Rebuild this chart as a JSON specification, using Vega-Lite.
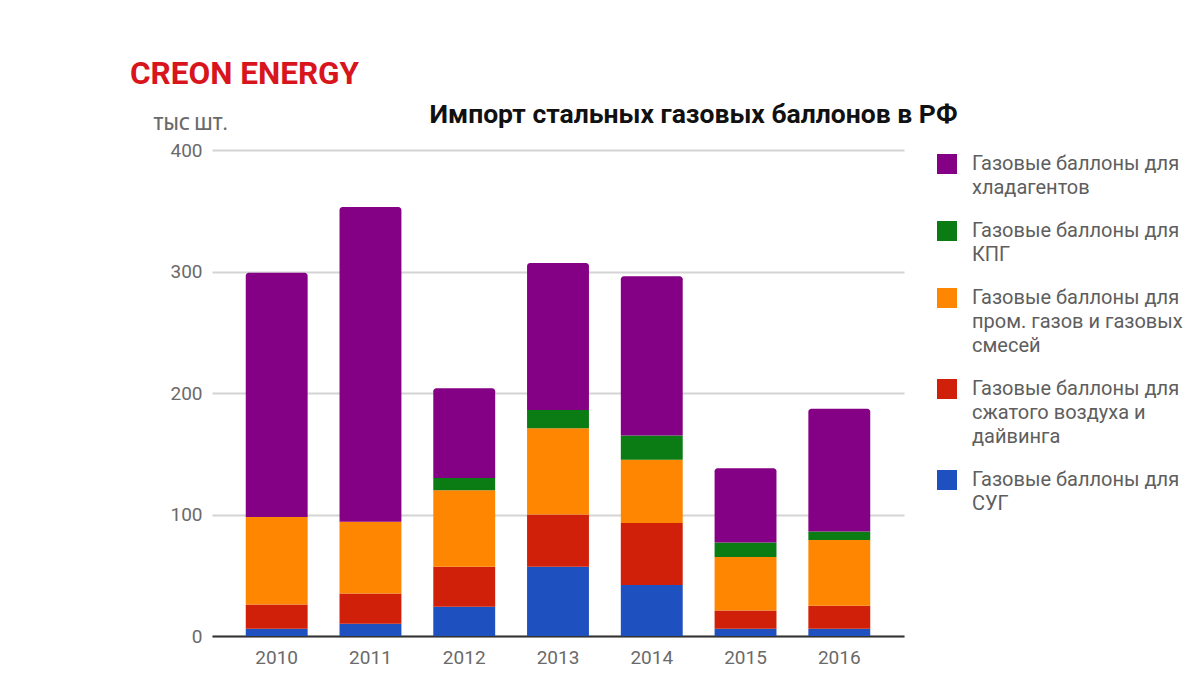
{
  "$schema": "https://vega.github.io/schema/vega-lite/v6.json",
  "width": 692,
  "height": 486,
  "autosize": {"type": "none"},
  "padding": {"left": 212, "top": 150, "right": 296, "bottom": 48},
  "background": "white",
  "title": {
    "text": "CREON ENERGY",
    "anchor": "start",
    "frame": "group",
    "dx": -82,
    "offset": 11,
    "font": "Roboto",
    "fontSize": 31.5,
    "fontWeight": "bold",
    "color": "#d8141c"
  },
  "config": {
    "view": {"stroke": null},
    "font": "Roboto",
    "style": {"guide-label": {"lineHeight": 24}}
  },
  "data": {
    "values": [
      {"year": "2010", "cat": "Газовые баллоны для|СУГ", "ord": 1, "value": 6},
      {"year": "2010", "cat": "Газовые баллоны для|сжатого воздуха и|дайвинга", "ord": 2, "value": 20},
      {"year": "2010", "cat": "Газовые баллоны для|пром. газов и газовых|смесей", "ord": 3, "value": 72},
      {"year": "2010", "cat": "Газовые баллоны для|КПГ", "ord": 4, "value": 0},
      {"year": "2010", "cat": "Газовые баллоны для|хладагентов", "ord": 5, "value": 201},
      {"year": "2011", "cat": "Газовые баллоны для|СУГ", "ord": 1, "value": 10},
      {"year": "2011", "cat": "Газовые баллоны для|сжатого воздуха и|дайвинга", "ord": 2, "value": 25},
      {"year": "2011", "cat": "Газовые баллоны для|пром. газов и газовых|смесей", "ord": 3, "value": 59},
      {"year": "2011", "cat": "Газовые баллоны для|КПГ", "ord": 4, "value": 0},
      {"year": "2011", "cat": "Газовые баллоны для|хладагентов", "ord": 5, "value": 259},
      {"year": "2012", "cat": "Газовые баллоны для|СУГ", "ord": 1, "value": 24},
      {"year": "2012", "cat": "Газовые баллоны для|сжатого воздуха и|дайвинга", "ord": 2, "value": 33},
      {"year": "2012", "cat": "Газовые баллоны для|пром. газов и газовых|смесей", "ord": 3, "value": 63},
      {"year": "2012", "cat": "Газовые баллоны для|КПГ", "ord": 4, "value": 10},
      {"year": "2012", "cat": "Газовые баллоны для|хладагентов", "ord": 5, "value": 74},
      {"year": "2013", "cat": "Газовые баллоны для|СУГ", "ord": 1, "value": 57},
      {"year": "2013", "cat": "Газовые баллоны для|сжатого воздуха и|дайвинга", "ord": 2, "value": 43},
      {"year": "2013", "cat": "Газовые баллоны для|пром. газов и газовых|смесей", "ord": 3, "value": 71},
      {"year": "2013", "cat": "Газовые баллоны для|КПГ", "ord": 4, "value": 15},
      {"year": "2013", "cat": "Газовые баллоны для|хладагентов", "ord": 5, "value": 121},
      {"year": "2014", "cat": "Газовые баллоны для|СУГ", "ord": 1, "value": 42},
      {"year": "2014", "cat": "Газовые баллоны для|сжатого воздуха и|дайвинга", "ord": 2, "value": 51},
      {"year": "2014", "cat": "Газовые баллоны для|пром. газов и газовых|смесей", "ord": 3, "value": 52},
      {"year": "2014", "cat": "Газовые баллоны для|КПГ", "ord": 4, "value": 20},
      {"year": "2014", "cat": "Газовые баллоны для|хладагентов", "ord": 5, "value": 131},
      {"year": "2015", "cat": "Газовые баллоны для|СУГ", "ord": 1, "value": 6},
      {"year": "2015", "cat": "Газовые баллоны для|сжатого воздуха и|дайвинга", "ord": 2, "value": 15},
      {"year": "2015", "cat": "Газовые баллоны для|пром. газов и газовых|смесей", "ord": 3, "value": 44},
      {"year": "2015", "cat": "Газовые баллоны для|КПГ", "ord": 4, "value": 12},
      {"year": "2015", "cat": "Газовые баллоны для|хладагентов", "ord": 5, "value": 61},
      {"year": "2016", "cat": "Газовые баллоны для|СУГ", "ord": 1, "value": 6},
      {"year": "2016", "cat": "Газовые баллоны для|сжатого воздуха и|дайвинга", "ord": 2, "value": 19},
      {"year": "2016", "cat": "Газовые баллоны для|пром. газов и газовых|смесей", "ord": 3, "value": 54},
      {"year": "2016", "cat": "Газовые баллоны для|КПГ", "ord": 4, "value": 7},
      {"year": "2016", "cat": "Газовые баллоны для|хладагентов", "ord": 5, "value": 101}
    ]
  },
  "transform": [
    {"stack": "value", "groupby": ["year"], "sort": [{"field": "ord", "order": "ascending"}], "as": ["y0", "y1"]}
  ],
  "encoding": {
    "x": {
      "field": "year",
      "type": "nominal",
      "scale": {"paddingInner": 0.34, "paddingOuter": 0.36}
    },
    "y": {
      "field": "y1",
      "type": "quantitative",
      "scale": {"domain": [0, 400], "nice": false},
      "axis": {
        "values": [0, 100, 200, 300, 400],
        "title": "ТЫС ШТ.",
        "titleAngle": 0,
        "titleX": -59,
        "titleY": -26,
        "titleAlign": "left",
        "titleBaseline": "middle",
        "titleFont": "Open Sans",
        "titleFontSize": 17.5,
        "titleFontWeight": 600,
        "titleColor": "#6a6a6a",
        "labelFont": "Roboto",
        "labelFontSize": 19,
        "labelColor": "#6a6a6a",
        "labelPadding": 10,
        "ticks": false,
        "domain": false,
        "grid": true,
        "gridColor": "#d4d4d4",
        "gridWidth": 2
      }
    },
    "y2": {"field": "y0"},
    "color": {
      "field": "cat",
      "type": "nominal",
      "scale": {
        "domain": [
          "Газовые баллоны для|хладагентов",
          "Газовые баллоны для|КПГ",
          "Газовые баллоны для|пром. газов и газовых|смесей",
          "Газовые баллоны для|сжатого воздуха и|дайвинга",
          "Газовые баллоны для|СУГ"
        ],
        "range": ["#840084", "#0b7b14", "#ff8600", "#d0200a", "#1e50bf"]
      },
      "legend": {
        "title": null,
        "orient": "none",
        "legendX": 725,
        "legendY": 4,
        "symbolType": "square",
        "symbolSize": 400,
        "symbolStrokeWidth": 0,
        "symbolOpacity": 1,
        "labelExpr": "split(datum.label, '|')",
        "labelFont": "Roboto",
        "labelFontSize": 20,
        "labelColor": "#5e5e5e",
        "labelOffset": 15,
        "labelLimit": 300,
        "rowPadding": 23
      }
    }
  },
  "layer": [
    {
      "transform": [{"filter": "datum.ord < 5"}],
      "mark": {"type": "bar"},
      "encoding": {
        "x": {
          "field": "year",
          "type": "nominal",
          "axis": {
            "title": null,
            "labelAngle": 0,
            "labelFont": "Roboto",
            "labelFontSize": 19,
            "labelColor": "#6a6a6a",
            "labelPadding": 12,
            "ticks": false,
            "domain": true,
            "domainColor": "#333333",
            "domainWidth": 2,
            "grid": false
          }
        }
      }
    },
    {
      "transform": [{"filter": "datum.ord == 5"}],
      "mark": {"type": "bar", "cornerRadiusTopLeft": 3, "cornerRadiusTopRight": 3},
      "encoding": {
        "x": {
          "field": "year",
          "type": "nominal",
          "axis": {
            "orient": "top",
            "labels": false,
            "ticks": false,
            "domain": false,
            "grid": false,
            "title": "Импорт стальных газовых баллонов в РФ",
            "titleFont": "Roboto",
            "titleFontSize": 26.5,
            "titleFontWeight": "bold",
            "titleColor": "#111111",
            "titleX": 481,
            "titleY": -36,
            "titleAlign": "center",
            "titleBaseline": "middle"
          }
        }
      }
    }
  ],
  "resolve": {"axis": {"x": "independent"}}
}
